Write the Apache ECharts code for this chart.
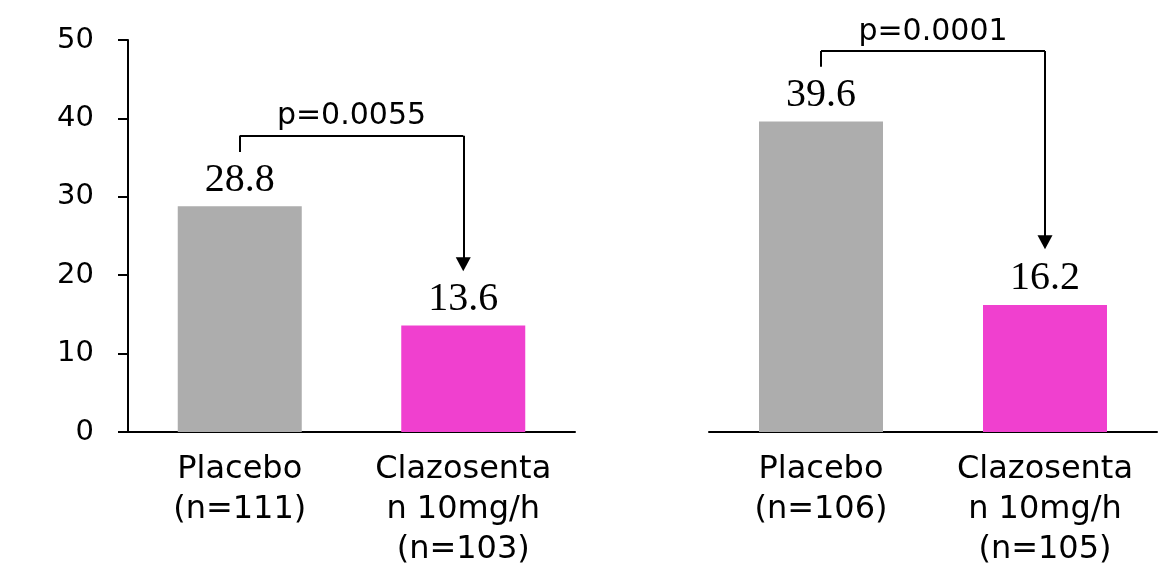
<!DOCTYPE html>
<html>
<head>
<meta charset="utf-8">
<script src="https://cdn.jsdelivr.net/npm/echarts@6/dist/echarts.min.js"></script>
<style>
  html, body { margin: 0; padding: 0; background: #fff; }
  #chart { width: 1160px; height: 566px; }
</style>
</head>
<body>
<div id="chart"></div>
<script>
// categories
const catsLeft = ['Placebo\n(n=111)', 'Clazosenta\nn 10mg/h\n(n=103)'];
const catsRight = ['Placebo\n(n=106)', 'Clazosenta\nn 10mg/h\n(n=105)'];
// values
const valsLeft = [28.8, 13.6];
const valsRight = [39.6, 16.2];
// y axis
const yMin = 0, yMax = 50, yStep = 10;
// p values
const pLeft = 'p=0.0055';
const pRight = 'p=0.0001';
// bracket levels [start, top, arrow end] in axis units
const bracketLeft = [35.7, 37.8, 21.4];
const bracketRight = [46.6, 48.6, 24.2];

const barColors = ['#ADADAD', '#F040CF'];
const sans = 'DejaVu Sans';

function bars(vals) {
    return vals.map((v, i) => ({ value: v, itemStyle: { color: barColors[i] } }));
}

function bracket(b, p) {
    let ln = { color: '#000', width: 2, type: 'solid' };
    return {
        silent: true,
        symbol: ['none', 'none'],
        lineStyle: ln,
        label: { show: false },
        emphasis: { disabled: true },
        data: [
            [{ coord: [0, b[0]] }, { coord: [0, b[1]] }],
            [{ coord: [0, b[1]], label: { show: true, position: 'middle', formatter: p, color: '#000', fontFamily: sans, fontSize: 30, distance: 4 } },
             { coord: [1, b[1]] }],
            [{ coord: [1, b[1]] }, { coord: [1, b[2]], symbol: 'triangle', symbolSize: [15, 14] }]
        ]
    };
}

let chart = echarts.init(document.getElementById('chart'));
chart.setOption({
    animation: false,
    grid: [
        { left: 128, right: 585, top: 40, bottom: 134, outerBoundsMode: 'none' },
        { left: 709, right: 3, top: 40, bottom: 134, outerBoundsMode: 'none' }
    ],
    xAxis: [
        { gridIndex: 0, type: 'category', data: catsLeft,
          axisLine: { lineStyle: { color: '#000', width: 2 } },
          axisTick: { show: false },
          axisLabel: { color: '#000', fontFamily: sans, fontSize: 32, lineHeight: 40, margin: 18, interval: 0 } },
        { gridIndex: 1, type: 'category', data: catsRight,
          axisLine: { lineStyle: { color: '#000', width: 2 } },
          axisTick: { show: false },
          axisLabel: { color: '#000', fontFamily: sans, fontSize: 32, lineHeight: 40, margin: 18, interval: 0 } }
    ],
    yAxis: [
        { gridIndex: 0, type: 'value', min: yMin, max: yMax, interval: yStep,
          axisLine: { show: true, lineStyle: { color: '#000', width: 2 } },
          axisTick: { show: true, length: 10, lineStyle: { color: '#000', width: 2 } },
          splitLine: { show: false },
          axisLabel: { color: '#000', fontFamily: sans, fontSize: 29, margin: 34 } },
        { gridIndex: 1, type: 'value', min: yMin, max: yMax, interval: yStep, show: false,
          splitLine: { show: false } }
    ],
    series: [
        { type: 'bar', xAxisIndex: 0, yAxisIndex: 0, barWidth: 124, data: bars(valsLeft),
          label: { show: true, position: 'top', distance: 6, color: '#000', fontFamily: 'Liberation Serif', fontSize: 40 },
          markLine: bracket(bracketLeft, pLeft) },
        { type: 'bar', xAxisIndex: 1, yAxisIndex: 1, barWidth: 124, data: bars(valsRight),
          label: { show: true, position: 'top', distance: 6, color: '#000', fontFamily: 'Liberation Serif', fontSize: 40 },
          markLine: bracket(bracketRight, pRight) }
    ]
});
</script>
</body>
</html>
